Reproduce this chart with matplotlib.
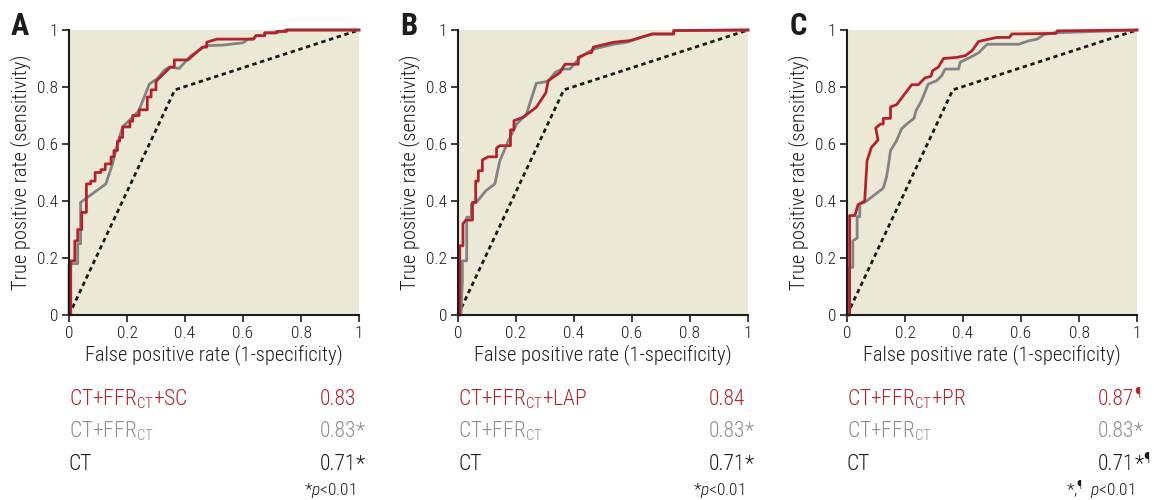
import matplotlib
matplotlib.use('Agg')
import matplotlib.pyplot as plt
from matplotlib import font_manager

# pick a condensed sans that is installed
installed = {f.name for f in font_manager.fontManager.ttflist}
FONT = 'DejaVu Sans'
for cand in ['Liberation Sans Narrow', 'Roboto Condensed', 'Archivo Narrow', 'PT Sans Narrow',
             'IBM Plex Sans Condensed']:
    if cand in installed:
        FONT = cand
        break

plt.rcParams['font.family'] = [FONT, 'DejaVu Sans']
plt.rcParams['font.weight'] = 'light'
plt.rcParams['axes.labelweight'] = 'light'
plt.rcParams['mathtext.fontset'] = 'custom'
plt.rcParams['mathtext.rm'] = FONT + ':light'
plt.rcParams['mathtext.it'] = FONT + ':italic:light'
plt.rcParams['mathtext.bf'] = FONT + ':bold'

RED = '#b1242b'
GRAY = '#838383'
TEXTGRAY = '#8e8e8e'
BLACK = '#1c1c1c'
BG = '#ece8d6'

# ROC of CT alone (same in every panel)
ct_fpr = [0, 0.365, 1]
ct_tpr = [0, 0.79, 1]

# panel A : CT+FFRct+SC (red) and CT+FFRct (gray)
a_red_fpr = [0, 0.006, 0.006, 0.02, 0.02, 0.03, 0.03, 0.044, 0.044, 0.06, 0.06, 0.075, 0.075, 0.09, 0.09,
             0.11, 0.11, 0.125, 0.125, 0.145, 0.145, 0.155, 0.155, 0.167, 0.167, 0.175, 0.175, 0.185, 0.185,
             0.21, 0.21, 0.22, 0.22, 0.242, 0.242, 0.27, 0.27, 0.283, 0.283, 0.30, 0.30, 0.35, 0.363, 0.363,
             0.41, 0.46, 0.475, 0.475, 0.51, 0.635, 0.645, 0.675, 0.675, 0.715, 0.715, 0.75, 0.75, 1]
a_red_tpr = [0, 0, 0.19, 0.19, 0.26, 0.26, 0.30, 0.30, 0.36, 0.36, 0.46, 0.46, 0.47, 0.47, 0.50,
             0.50, 0.51, 0.51, 0.53, 0.53, 0.555, 0.555, 0.577, 0.577, 0.61, 0.61, 0.623, 0.623, 0.66,
             0.66, 0.68, 0.68, 0.70, 0.70, 0.72, 0.72, 0.765, 0.765, 0.79, 0.79, 0.82, 0.87, 0.87, 0.895,
             0.895, 0.94, 0.94, 0.957, 0.968, 0.968, 0.98, 0.98, 0.99, 0.99, 0.995, 0.995, 1.0, 1.0]
a_gray_fpr = [0, 0, 0.03, 0.03, 0.04, 0.04, 0.127, 0.15, 0.167, 0.185, 0.24, 0.277, 0.305, 0.33, 0.346,
              0.38, 0.42, 0.473, 0.53, 0.60, 0.617, 0.635, 0.645, 0.675, 0.675, 0.715, 0.75, 1]
a_gray_tpr = [0, 0.18, 0.18, 0.25, 0.25, 0.395, 0.46, 0.53, 0.60, 0.66, 0.715, 0.81, 0.83, 0.86, 0.87,
              0.865, 0.91, 0.945, 0.947, 0.955, 0.968, 0.968, 0.98, 0.98, 0.99, 0.99, 1.0, 1.0]

# panel B : CT+FFRct+LAP (red) and CT+FFRct (gray)
b_red_fpr = [0, 0.006, 0.006, 0.017, 0.017, 0.027, 0.05, 0.05, 0.061, 0.061, 0.07, 0.07, 0.084, 0.084,
             0.104, 0.133, 0.133, 0.144, 0.181, 0.181, 0.193, 0.193, 0.225, 0.27, 0.303, 0.311, 0.352,
             0.369, 0.415, 0.415, 0.45, 0.46, 0.467, 0.536, 0.594, 0.64, 0.67, 0.744, 0.744, 1]
b_red_tpr = [0, 0, 0.243, 0.243, 0.32, 0.333, 0.333, 0.395, 0.395, 0.47, 0.47, 0.506, 0.506, 0.544,
             0.555, 0.555, 0.586, 0.594, 0.594, 0.65, 0.65, 0.682, 0.694, 0.729, 0.78, 0.822, 0.851,
             0.88, 0.88, 0.904, 0.92, 0.92, 0.94, 0.957, 0.963, 0.977, 0.986, 0.986, 0.998, 1.0]
b_gray_fpr = [0, 0.01, 0.015, 0.015, 0.03, 0.03, 0.046, 0.046, 0.063, 0.096, 0.127, 0.144, 0.173, 0.202,
              0.236, 0.27, 0.311, 0.335, 0.358, 0.386, 0.421, 0.467, 0.536, 0.582, 0.64, 0.67, 0.744,
              0.744, 1]
b_gray_tpr = [0, 0, 0.12, 0.19, 0.19, 0.343, 0.343, 0.39, 0.395, 0.436, 0.46, 0.54, 0.61, 0.67,
              0.705, 0.813, 0.82, 0.851, 0.863, 0.863, 0.904, 0.933, 0.95, 0.957, 0.977, 0.986, 0.986,
              0.998, 1.0]

# panel C : CT+FFRct+PR (red) and CT+FFRct (gray)
c_red_fpr = [0, 0.009, 0.009, 0.027, 0.038, 0.061, 0.069, 0.084, 0.107, 0.099, 0.115, 0.125, 0.125,
             0.15, 0.15, 0.171, 0.223, 0.246, 0.269, 0.29, 0.295, 0.315, 0.333, 0.379, 0.408, 0.431,
             0.454, 0.517, 0.56, 0.569, 0.72, 0.725, 1]
c_red_tpr = [0, 0, 0.349, 0.349, 0.387, 0.40, 0.54, 0.588, 0.614, 0.656, 0.67, 0.67, 0.69,
             0.69, 0.73, 0.738, 0.808, 0.808, 0.832, 0.838, 0.857, 0.87, 0.90, 0.904, 0.91, 0.927,
             0.96, 0.974, 0.974, 0.986, 0.988, 0.997, 1.0]
c_gray_fpr = [0, 0.006, 0.006, 0.02, 0.02, 0.035, 0.035, 0.044, 0.044, 0.061, 0.125, 0.136, 0.143,
              0.15, 0.171, 0.188, 0.206, 0.231, 0.238, 0.257, 0.28, 0.309, 0.327, 0.338, 0.385, 0.39,
              0.425, 0.454, 0.483, 0.592, 0.627, 0.656, 0.679, 0.714, 1]
c_gray_tpr = [0, 0, 0.167, 0.167, 0.26, 0.27, 0.345, 0.345, 0.39, 0.395, 0.445, 0.483, 0.526,
              0.577, 0.612, 0.653, 0.67, 0.69, 0.717, 0.752, 0.81, 0.822, 0.84, 0.863, 0.863, 0.887,
              0.904, 0.92, 0.95, 0.95, 0.962, 0.968, 0.984, 0.99, 1.0]

panel_letters = ['A', 'B', 'C']
red_labels = [r'CT+FFR$_{\mathregular{CT}}$+SC', r'CT+FFR$_{\mathregular{CT}}$+LAP',
              r'CT+FFR$_{\mathregular{CT}}$+PR']
gray_label = r'CT+FFR$_{\mathregular{CT}}$'
ct_label = 'CT'
red_auc = ['0.83', '0.84', '0.87']
red_marks = ['', '', r'$^{\mathregular{¶}}$']
gray_auc = ['0.83', '0.83', '0.83']
gray_marks = ['*', '*', '*']
ct_auc = ['0.71', '0.71', '0.71']
ct_marks = ['*', '*', r'*$^{\mathregular{¶}}$']
footnotes = [r'*$\mathit{p}$<0.01', r'*$\mathit{p}$<0.01', r'*,$^{\mathregular{¶}}$  $\mathit{p}$<0.01']
tick_vals = [0, 0.2, 0.4, 0.6, 0.8, 1]
tick_labels = ['0', '0.2', '0.4', '0.6', '0.8', '1']

W, H = 1154, 500
fig = plt.figure(figsize=(W / 100, H / 100), dpi=100)


def fx(px):
    return px / W


def fy(py):
    return 1 - py / H


lefts = [69, 458, 847]
ax_w, ax_top, ax_bot = 290, 30, 315

curves = [(a_red_fpr, a_red_tpr, a_gray_fpr, a_gray_tpr),
          (b_red_fpr, b_red_tpr, b_gray_fpr, b_gray_tpr),
          (c_red_fpr, c_red_tpr, c_gray_fpr, c_gray_tpr)]

for i, left in enumerate(lefts):
    ax = fig.add_axes([fx(left), fy(ax_bot), ax_w / W, (ax_bot - ax_top) / H])
    ax.set_facecolor(BG)
    rx, ry, gx, gy = curves[i]
    ax.plot(ct_fpr, ct_tpr, color=BLACK, lw=2.0, ls=(0, (1.6, 1.3)), clip_on=False, zorder=3)
    ax.plot(gx, gy, color=GRAY, lw=2.0, clip_on=False, zorder=4)
    ax.plot(rx, ry, color=RED, lw=2.0, clip_on=False, zorder=5)
    ax.set_xlim(0, 1)
    ax.set_ylim(0, 1)
    for s in ['top', 'right']:
        ax.spines[s].set_visible(False)
    for s in ['left', 'bottom']:
        ax.spines[s].set_linewidth(1.5)
        ax.spines[s].set_color(BLACK)
        ax.spines[s].set_zorder(6)
    ax.set_xticks(tick_vals)
    ax.set_xticklabels(tick_labels)
    ax.set_yticks(tick_vals)
    ax.set_yticklabels(tick_labels)
    ax.tick_params(direction='out', length=5, width=1.2, labelsize=12.5, colors=BLACK, pad=3)
    ax.set_xlabel('False positive rate (1-specificity)', fontsize=14.8, color=BLACK, labelpad=2)
    ax.set_ylabel('True positive rate (sensitivity)', fontsize=14.8, color=BLACK, labelpad=4)

    # panel letter
    fig.text(fx(left - 49), fy(26), panel_letters[i], fontsize=22, fontweight='bold',
             color=BLACK, ha='center', va='center')

    # AUC table under the panel
    right = left + ax_w - 3
    rows = [(red_labels[i], red_auc[i], red_marks[i], RED, 405),
            (gray_label, gray_auc[i], gray_marks[i], TEXTGRAY, 437),
            (ct_label, ct_auc[i], ct_marks[i], BLACK, 470)]
    for lab, val, mark, col, base in rows:
        fig.text(fx(left), fy(base), lab, fontsize=15.5, color=col, ha='left', va='baseline')
        fig.text(fx(right), fy(base), val, fontsize=15.5, color=col, ha='right', va='baseline')
        if mark:
            fig.text(fx(right), fy(base), mark, fontsize=15.5, color=col, ha='left', va='baseline')
    fig.text(fx(right), fy(495), footnotes[i], fontsize=12.5, color=BLACK, ha='right', va='baseline')

fig.savefig('out.png', dpi=100)
